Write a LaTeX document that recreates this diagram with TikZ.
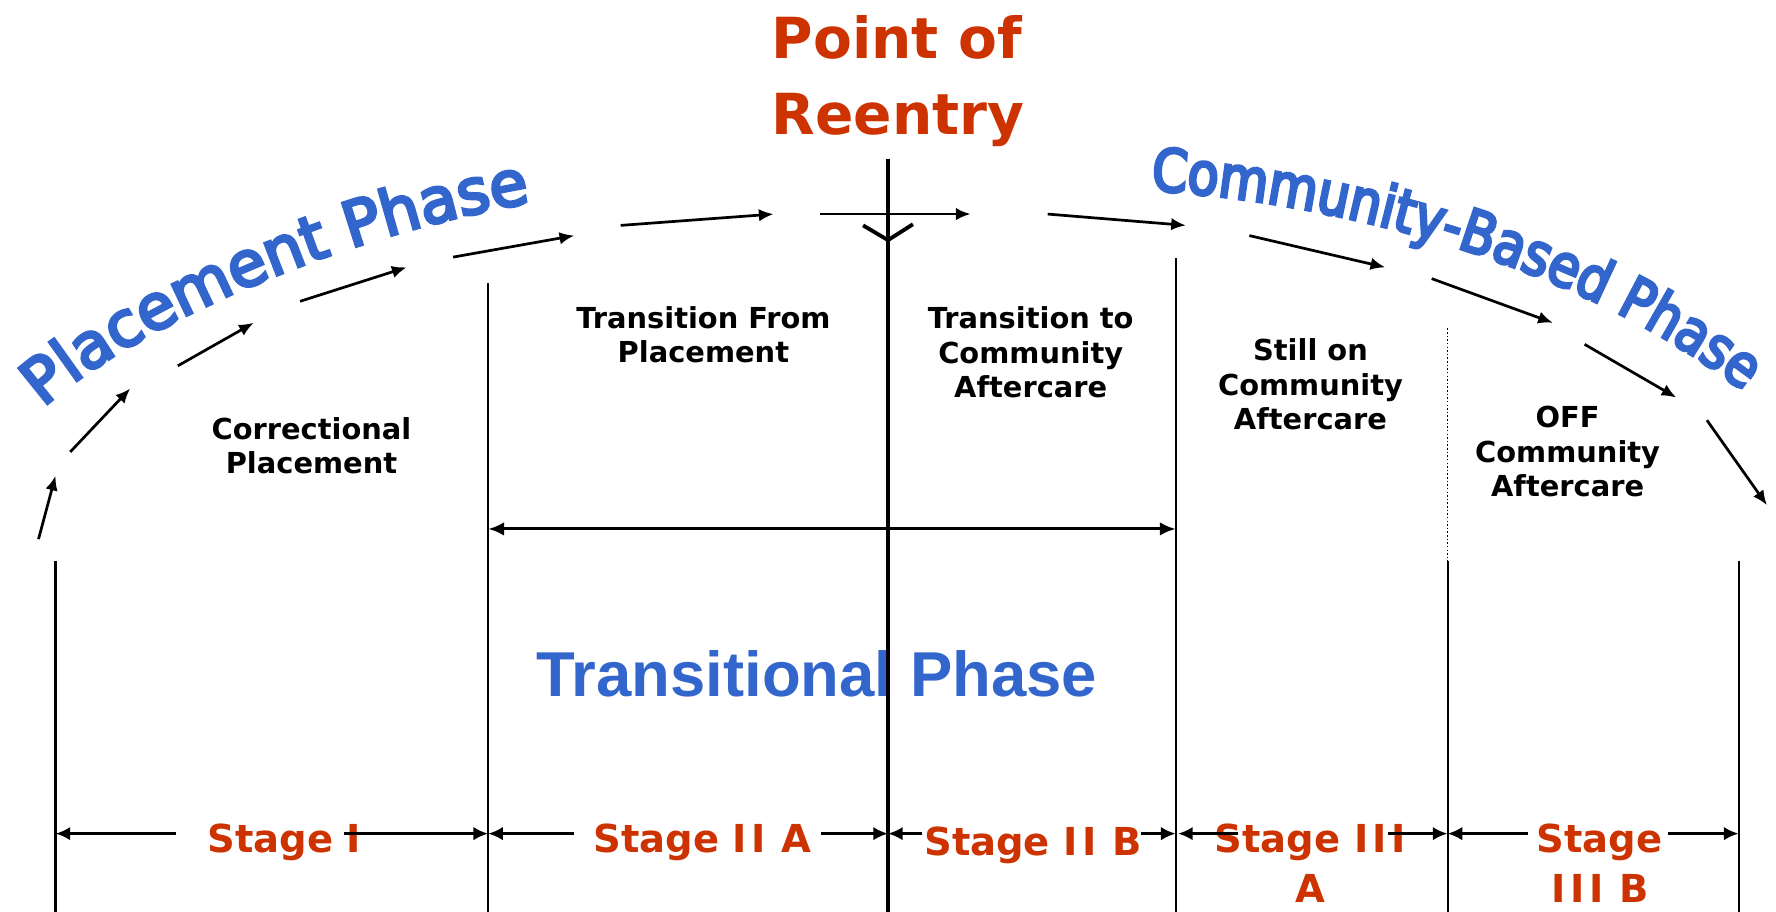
\documentclass[tikz,border=0pt]{standalone}
\usepackage{fontspec}
\usetikzlibrary{arrows.meta,decorations.text}
\setmainfont{DejaVu Sans}
\newfontfamily\arialfont{Liberation Sans}
\newfontfamily\wordartA{DejaVu Sans}[FakeBold=5]
\newfontfamily\wordartB{DejaVu Sans}[FakeStretch=0.86,FakeBold=5]
\definecolor{phaseblue}{RGB}{51,102,204}
\definecolor{stagered}{RGB}{204,51,0}
\begin{document}
\begin{tikzpicture}[x=1pt,y=-1pt,
  lab/.style={font=\fontsize{25.5}{30}\selectfont\bfseries, anchor=base, inner sep=0pt},
  stagelab/.style={font=\fontsize{34}{40}\selectfont\bfseries, text=stagered, anchor=base, inner sep=0pt},
  titlelab/.style={font=\fontsize{50}{60}\selectfont\bfseries, text=stagered, anchor=base, inner sep=0pt},
  vline/.style={line width=1.8pt},
  arcarrow/.style={line width=2.4pt, -{Latex[length=13pt,width=11pt]}},
  stagearrow/.style={line width=2.6pt, -{Latex[length=13pt,width=12pt]}},
  spanarrow/.style={line width=2.7pt, {Latex[length=14pt,width=12pt]}-{Latex[length=14pt,width=12pt]}},
]
\useasboundingbox (0,0) rectangle (1568,805);
\fill[white] (0,0) rectangle (1568,805);

% title
\node[titlelab] (poi) at (792,52) {Point of};
\node[titlelab] (ree) at (793,119) {Reentry};

% curved phase names
\path[decorate, decoration={text along path, text align=left, text color=phaseblue,
  text={|\wordartA\fontsize{55}{55}\selectfont|Placement Phase}}]
  (38,360) .. controls (116,290) and (300,205) .. (485,176);
\path[decorate, decoration={text along path, text align=left, text color=phaseblue,
  text={|\wordartB\fontsize{52}{52}\selectfont|Community-Based Phase}}]
  (1016,168) .. controls (1205,180) and (1430,245) .. (1575,375);

\node[anchor=base, inner sep=0pt, text=phaseblue,
  font=\arialfont\fontsize{56}{60}\selectfont\bfseries] (trp) at (721,615) {Transitional Phase};

% arrows along the arc
\foreach \i/\sx/\sy/\ex/\ey in {1/34/476/49/420, 2/62/399/115/343, 3/157/323/224/285,
  4/265/266/359/236, 5/400/227/507/208, 6/548/199/683/189, 7/724/189/857/189,
  8/925/189/1047/199, 9/1103/208/1223/236, 10/1264/246/1371/285,
  11/1399/304/1480/351, 12/1507/371/1560/446} {
  \coordinate (as\i) at (\sx,\sy);
  \coordinate (ae\i) at (\ex,\ey);
  \draw[arcarrow] (as\i) -- (ae\i);
}

% vertical lines
\coordinate (l1t) at (49,495);   \coordinate (l1b) at (49,805);
\coordinate (l2t) at (431,250);  \coordinate (l2b) at (431,805);
\coordinate (l4t) at (1038,228); \coordinate (l4b) at (1038,805);
\coordinate (l5d) at (1278,290); \coordinate (l5t) at (1278,495); \coordinate (l5b) at (1278,805);
\coordinate (l6t) at (1535,495); \coordinate (l6b) at (1535,805);
\draw[vline] (l1t) -- (l1b);
\draw[vline] (l2t) -- (l2b);
\draw[vline] (l4t) -- (l4b);
\draw[line width=1.3pt, dash pattern=on 1.3pt off 1.9pt] (l5d) -- (l5t);
\draw[vline] (l5t) -- (l5b);
\draw[vline] (l6t) -- (l6b);

% point of reentry line
\coordinate (pt) at (784,140); \coordinate (pb) at (784,805);
\draw[line width=3.6pt] (pt) -- (pb);
\coordinate (v1) at (762,199); \coordinate (v2) at (784,212); \coordinate (v3) at (806,198);
\draw[line width=3.4pt] (v1) -- (v2) -- (v3);

% transitional span
\coordinate (sp1) at (431,467); \coordinate (sp2) at (1038,467);
\draw[spanarrow] (sp1) -- (sp2);

% stage descriptions
\node[lab] (cp1) at (275,388) {Correctional};
\node[lab] (cp2) at (275,418) {Placement};
\node[lab] (tf1) at (621,290) {Transition From};
\node[lab] (tf2) at (621,320) {Placement};
\node[lab] (tc1) at (910,290) {Transition to};
\node[lab] (tc2) at (910,321) {Community};
\node[lab] (tc3) at (910,351) {Aftercare};
\node[lab] (so1) at (1157,318) {Still on};
\node[lab] (so2) at (1157,349) {Community};
\node[lab] (so3) at (1157,379) {Aftercare};
\node[lab] (of1) at (1384,377) {OFF};
\node[lab] (of2) at (1384,408) {Community};
\node[lab] (of3) at (1384,438) {Aftercare};

% stage labels
\node[stagelab] (s1) at (251,753) {Stage I};
\node[stagelab] (s2a) at (620,753) {Stage I\kern4pt I\kern2pt\ A};
\node[stagelab] (s2b) at (912,755) {Stage I\kern4pt I\kern2pt\ B};
\node[stagelab] (s3a) at (1157,753) {Stage I\kern4pt I\kern4pt I};
\node[stagelab] (s3a2) at (1157,797) {A};
\node[stagelab] (s3b) at (1412,753) {Stage};
\node[stagelab] (s3b2) at (1413,797) {I\kern4pt I\kern4pt I\kern2pt\ B};

% stage arrows
\foreach \n/\sx/\ex in {a/155/49, b/304/431, c/507/431, d/725/784, e/814/784,
  f/1007/1038, g/1093/1040, h/1225/1278, i/1349/1278, j/1473/1535} {
  \coordinate (ss\n) at (\sx,736);
  \coordinate (se\n) at (\ex,736);
  \draw[stagearrow] (ss\n) -- (se\n);
}
\end{tikzpicture}
\end{document}
